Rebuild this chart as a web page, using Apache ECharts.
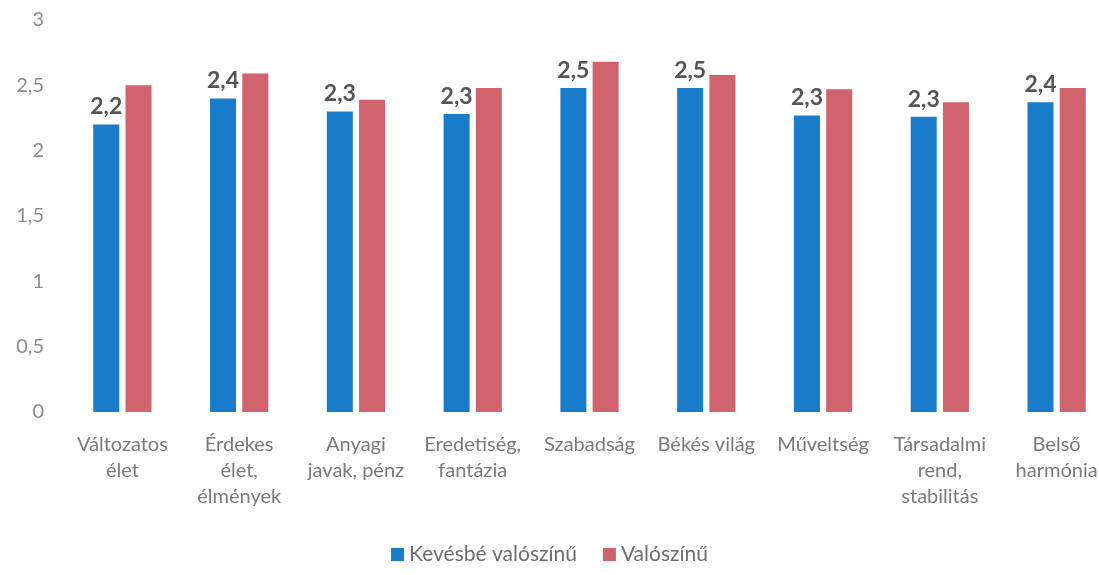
<!DOCTYPE html>
<html><head><meta charset="utf-8">
<script src="https://cdn.jsdelivr.net/npm/echarts@6/dist/echarts.min.js"></script>
<style>html,body{margin:0;padding:0;background:#fff}#c{width:1099px;height:575px}</style>
</head><body><div id="c"></div>
<script>
const categories = ["Változatos\nélet","Érdekes\nélet,\nélmények","Anyagi\njavak, pénz","Eredetiség,\nfantázia","Szabadság","Békés világ","Műveltség","Társadalmi\nrend,\nstabilitás","Belső\nharmónia"];
const lessLikely = [2.2, 2.4, 2.3, 2.28, 2.48, 2.48, 2.27, 2.26, 2.37];
const likely = [2.5, 2.59, 2.39, 2.48, 2.68, 2.58, 2.47, 2.37, 2.48];
const seriesNames = ["Kevésbé valószínű", "Valószínű"];
const yTicks = {min: 0, max: 3, interval: 0.5};

const fmt = v => String(Math.round(v*10)/10).replace('.', ',');
const chart = echarts.init(document.getElementById('c'));
chart.setOption({
  animation: false,
  textStyle: {fontFamily: 'Lato'},
  grid: {left: 64, right: -16, top: 20, bottom: 163, outerBoundsMode: 'none', containLabel: false},
  legend: {
    bottom: 5, left: 'center', itemWidth: 13, itemHeight: 13, itemGap: 26, icon: 'rect',
    textStyle: {fontSize: 21, color: '#6e6e6e', fontFamily: 'Lato'},
    data: seriesNames
  },
  xAxis: {
    type: 'category', data: categories,
    axisLine: {show: false}, axisTick: {show: false},
    axisLabel: {interval: 0, fontSize: 20, color: '#7a7a7a', lineHeight: 26, margin: 20, fontFamily: 'Lato'}
  },
  yAxis: {
    type: 'value', min: yTicks.min, max: yTicks.max, interval: yTicks.interval,
    splitLine: {show: false}, axisLine: {show: false}, axisTick: {show: false},
    axisLabel: {fontSize: 20, color: '#8c8c8c', margin: 20, formatter: v => String(v).replace('.', ',')}
  },
  series: [
    {name: seriesNames[0], type: 'bar', data: lessLikely, barWidth: 26, barGap: '24%',
     itemStyle: {color: '#187ccb'},
     label: {show: true, position: 'top', distance: 6, fontSize: 23, fontWeight: 'bold', color: '#555555',
       fontFamily: 'Lato', formatter: p => fmt(p.value)}},
    {name: seriesNames[1], type: 'bar', data: likely, barWidth: 26,
     itemStyle: {color: '#d1636e'}}
  ]
});
</script></body></html>
